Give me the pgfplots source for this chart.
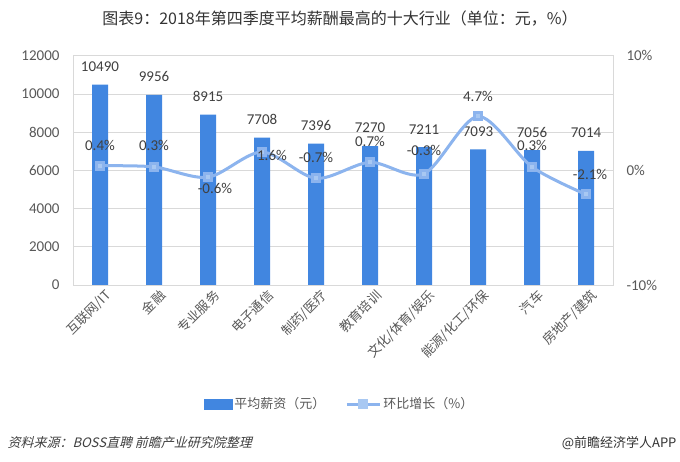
\documentclass[border=0pt]{standalone}
\usepackage{fontspec}
\usepackage{pgfplots}
\pgfplotsset{compat=1.18}
\usepackage{pgfplotstable}
\setmainfont{Carlito}
\newfontfamily\cjk{Noto Sans CJK SC}
\newfontfamily\cjkit{Noto Sans CJK SC}[FakeSlant=0.25]

\definecolor{barblue}{HTML}{4186E0}
\definecolor{linecol}{HTML}{8CB4EE}
\definecolor{markcol}{HTML}{A8C8F2}
\definecolor{gridcol}{HTML}{D9D9D9}
\definecolor{ticktxt}{HTML}{595959}
\definecolor{lbltxt}{HTML}{404040}

% salary by industry, yuan
\pgfplotstableread{
x salary
0 10490
1 9956
2 8915
3 7708
4 7396
5 7270
6 7211
7 7093
8 7056
9 7014
}\salary

% quarter-on-quarter change, % ; dx dy = label offset from marker
\pgfplotstableread{
x growth dx dy
0 0.4 0 20
1 0.3 0 21
2 -0.6 7 -11
3 1.6 10 -3
4 -0.7 0 21
5 0.7 0 21
6 -0.3 0 23
7 4.7 0 20
8 0.3 0 21
9 -2.1 4 20
}\growth

\pgfplotsset{
  base/.style={
    scale only axis, width=540pt, height=229.3pt,
    at={(73pt,177pt)}, anchor=south west,
    xmin=-0.5, xmax=9.5,
    major tick length=0pt,
    scaled y ticks=false,
    tick label style={font=\fontsize{15}{18}\selectfont, text=ticktxt},
    /pgf/number format/assume math mode=true,
    /pgf/number format/1000 sep={},
  },
}

\begin{document}
\begin{tikzpicture}
\path[use as bounding box, fill=white] (0pt,0pt) rectangle (680pt,462pt);

\begin{axis}[base,
  ymin=0, ymax=12000, ytick={0,2000,...,12000},
  ymajorgrids, grid style={draw=gridcol, line width=0.8pt},
  axis line style={draw=gridcol, line width=0.8pt},
  yticklabel style={xshift=-10pt},
  xtick={0,...,9},
  xticklabels={互联网/IT,金融,专业服务,电子通信,制药/医疗,教育培训,文化/体育/娱乐,能源/化工/环保,汽车,房地产/建筑},
  xticklabel style={font=\cjk\fontsize{13}{15}\selectfont, rotate=45,
    anchor=east, yshift=-12pt, xshift=4pt},
  ybar, bar width=16pt,
  nodes near coords={\pgfmathprintnumber{\pgfplotspointmeta}},
  every node near coord/.append style={font=\fontsize{15}{18}\selectfont,
    text=lbltxt, anchor=center, yshift=18pt},
]
\addplot[fill=barblue, draw=none] table[x=x, y=salary] {\salary};
\end{axis}

\begin{axis}[base,
  ymin=-10, ymax=10, ytick={-10,0,10},
  axis y line*=right, hide x axis,
  axis line style={draw=none},
  yticklabel={\pgfmathprintnumber{\tick}\%},
  yticklabel style={xshift=10pt},
  clip=false,
  legend columns=2,
  legend style={at={(rel axis cs:0.494,-0.519)}, anchor=center,
    draw=none, fill=none, font=\cjk\fontsize{13}{15}\selectfont,
    text=ticktxt, /tikz/every even column/.append style={column sep=18pt}},
]
\addlegendimage{legend image code/.code={
  \fill[barblue] (0pt,-5pt) rectangle (28pt,5pt);}}
\addlegendentry{平均薪资（元）}
\addplot[linecol, line width=3pt, smooth, tension=0.5,
  mark=square*, mark size=3.5pt,
  mark options={fill=markcol, draw=none},
  legend image code/.code={
    \draw[linecol, line width=3pt] (0pt,0pt) -- (33pt,0pt);
    \fill[markcol] (13pt,-3.5pt) rectangle (20pt,3.5pt);},
  visualization depends on={\thisrow{dx} \as \ldx},
  visualization depends on={\thisrow{dy} \as \ldy},
  nodes near coords={\pgfmathprintnumber[fixed,fixed zerofill,precision=1]{\pgfplotspointmeta}\%},
  every node near coord/.append style={font=\fontsize{15}{18}\selectfont,
    text=lbltxt, anchor=center, xshift=\ldx pt, yshift=\ldy pt},
] table[x=x, y=growth] {\growth};
\addlegendentry{环比增长（\%）}
\end{axis}

\node[font=\cjk\fontsize{16}{19}\selectfont, text=black!80] at (340pt,443pt)
  {图表9：2018年第四季度平均薪酬最高的十大行业（单位：元，\%）};
\node[anchor=west, font=\cjkit\fontsize{13}{15}\selectfont, text=black!75]
  at (4pt,19pt) {资料来源：BOSS直聘 前瞻产业研究院整理};
\node[anchor=east, font=\cjk\fontsize{13}{15}\selectfont, text=black!80]
  at (680pt,19pt) {@前瞻经济学人APP};
\end{tikzpicture}
\end{document}
